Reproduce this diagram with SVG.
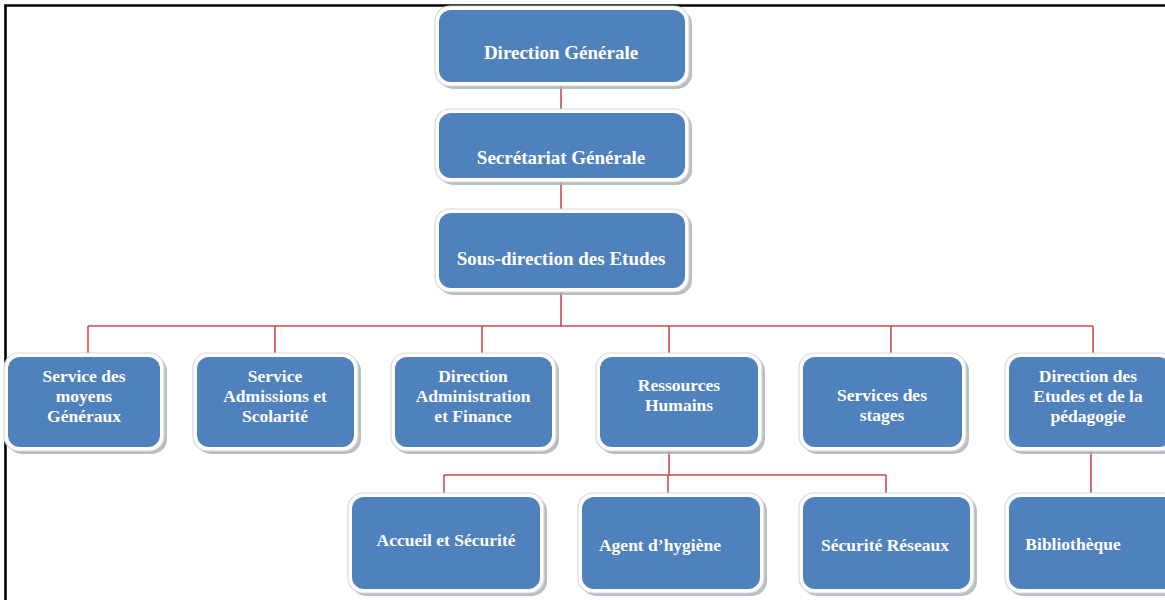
<svg xmlns="http://www.w3.org/2000/svg" width="1165" height="600" viewBox="0 0 1165 600">
<style>
.sh{fill:#a7adb5;opacity:0.8}
.ol{fill:#ffffff;stroke:#d4d7dc;stroke-width:1.2}
.bx{fill:#4F81BD}
.t{font-family:"Liberation Serif","Times New Roman",serif;font-weight:bold;fill:#ffffff;text-anchor:middle;font-size:17.5px}
.tb{font-size:19px}
.cn{fill:none;stroke:#CC4A52;stroke-width:1.6}
</style>
<rect x="0" y="0" width="1165" height="600" fill="#ffffff"/>
<path d="M5.5 600 V5.5 H1165" fill="none" stroke="#000000" stroke-width="2.6"/>
<g id="connectors">
<path class="cn" d="M561 84 V114 M561 180 V215 M561 290 V326 M88 326 H1093 M88 326 V357 M275 326 V357 M482 326 V357 M669 326 V357 M891 326 V357 M1093 326 V357"/>
<path class="cn" d="M669 448 V475 M444 475 H886 M444 475 V497 M668 475 V497 M886 475 V497 M1091 448 V497"/>
</g>
<g id="n1"><rect class="sh" x="438" y="9" width="254" height="80" rx="15"/><rect class="ol" x="435" y="6" width="254" height="80" rx="15"/><rect class="bx" x="439" y="10" width="246" height="72" rx="12"/><text class="t tb" x="561" y="59">Direction Générale</text></g>
<g id="n2"><rect class="sh" x="438" y="112" width="254" height="73" rx="15"/><rect class="ol" x="435" y="109" width="254" height="73" rx="15"/><rect class="bx" x="439" y="113" width="246" height="65" rx="12"/><text class="t tb" x="561" y="164">Secrétariat Générale</text></g>
<g id="n3"><rect class="sh" x="438" y="212" width="254" height="83" rx="15"/><rect class="ol" x="435" y="209" width="254" height="83" rx="15"/><rect class="bx" x="439" y="213" width="246" height="75" rx="12"/><text class="t tb" x="561" y="265">Sous-direction des Etudes</text></g>
<g id="n4"><rect class="sh" x="7" y="356" width="160" height="98" rx="15"/><rect class="ol" x="4" y="353" width="160" height="98" rx="15"/><rect class="bx" x="8" y="357" width="152" height="90" rx="12"/><text class="t" x="84" y="382">Service des</text><text class="t" x="84" y="402">moyens</text><text class="t" x="84" y="422">Généraux</text></g>
<g id="n5"><rect class="sh" x="196" y="356" width="165" height="98" rx="15"/><rect class="ol" x="193" y="353" width="165" height="98" rx="15"/><rect class="bx" x="197" y="357" width="157" height="90" rx="12"/><text class="t" x="275" y="382">Service</text><text class="t" x="275" y="402">Admissions et</text><text class="t" x="275" y="422">Scolarité</text></g>
<g id="n6"><rect class="sh" x="394" y="356" width="165" height="98" rx="15"/><rect class="ol" x="391" y="353" width="165" height="98" rx="15"/><rect class="bx" x="395" y="357" width="157" height="90" rx="12"/><text class="t" x="473" y="382">Direction</text><text class="t" x="473" y="402">Administration</text><text class="t" x="473" y="422">et Finance</text></g>
<g id="n7"><rect class="sh" x="599" y="356" width="166" height="98" rx="15"/><rect class="ol" x="596" y="353" width="166" height="98" rx="15"/><rect class="bx" x="600" y="357" width="158" height="90" rx="12"/><text class="t" x="679" y="391">Ressources</text><text class="t" x="679" y="411">Humains</text></g>
<g id="n8"><rect class="sh" x="802" y="356" width="167" height="98" rx="15"/><rect class="ol" x="799" y="353" width="167" height="98" rx="15"/><rect class="bx" x="803" y="357" width="159" height="90" rx="12"/><text class="t" x="882" y="401">Services des</text><text class="t" x="882" y="421">stages</text></g>
<g id="n9"><rect class="sh" x="1008" y="356" width="170" height="98" rx="15"/><rect class="ol" x="1005" y="353" width="170" height="98" rx="15"/><rect class="bx" x="1009" y="357" width="162" height="90" rx="12"/><text class="t" x="1088" y="382">Direction des</text><text class="t" x="1088" y="402">Etudes et de la</text><text class="t" x="1088" y="422">pédagogie</text></g>
<g id="n10"><rect class="sh" x="351" y="496" width="196" height="100" rx="15"/><rect class="ol" x="348" y="493" width="196" height="100" rx="15"/><rect class="bx" x="352" y="497" width="188" height="92" rx="12"/><text class="t" x="446" y="546">Accueil et Sécurité</text></g>
<g id="n11"><rect class="sh" x="581" y="496" width="186" height="100" rx="15"/><rect class="ol" x="578" y="493" width="186" height="100" rx="15"/><rect class="bx" x="582" y="497" width="178" height="92" rx="12"/><text class="t" x="660" y="551">Agent d’hygiène</text></g>
<g id="n12"><rect class="sh" x="802" y="496" width="175" height="100" rx="15"/><rect class="ol" x="799" y="493" width="175" height="100" rx="15"/><rect class="bx" x="803" y="497" width="167" height="92" rx="12"/><text class="t" x="885" y="551">Sécurité Réseaux</text></g>
<g id="n13"><rect class="sh" x="1008" y="496" width="175" height="100" rx="15"/><rect class="ol" x="1005" y="493" width="175" height="100" rx="15"/><rect class="bx" x="1009" y="497" width="167" height="92" rx="12"/><text class="t" x="1073" y="550">Bibliothèque</text></g>
</svg>
